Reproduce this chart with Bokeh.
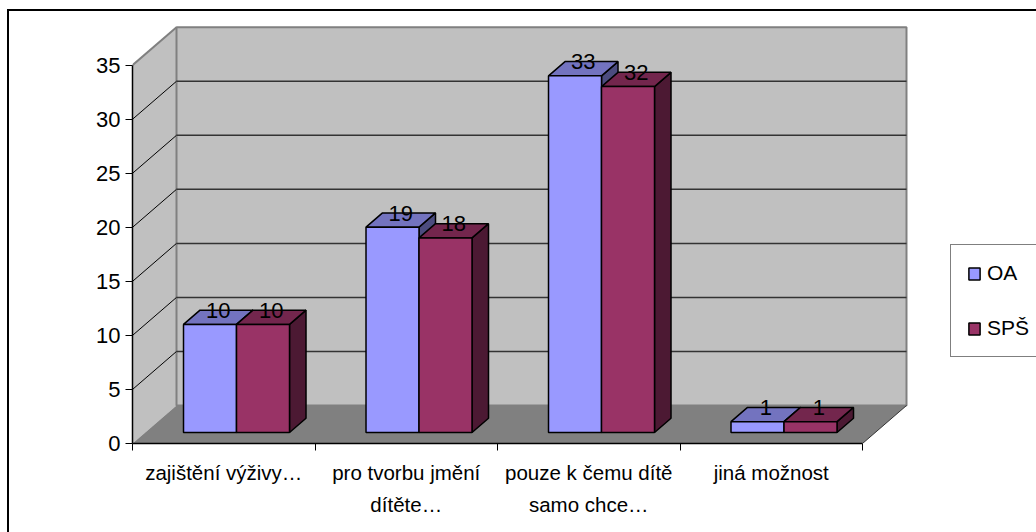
from bokeh.plotting import figure
from bokeh.models import (Range1d, LinearAxis, FixedTicker, Legend, LegendItem)
from bokeh.core.properties import value
from bokeh.embed import file_html
from bokeh.resources import INLINE

# ---- data ----
categories = ["zajištění výživy…", "pro tvorbu jmění\ndítěte…", "pouze k čemu dítě\nsamo chce…", "jiná možnost"]
oa_values = [10, 19, 33, 1]
sps_values = [10, 18, 32, 1]
series_names = ["OA", "SPŠ"]
y_ticks = [0, 5, 10, 15, 20, 25, 30, 35]

# ---- style / layout ----
FONT = "Liberation Sans"
FS = "20.5px"
FS_NUM = "22px"
FRONT = ["#9999FF", "#993366"]
TOP = ["#7373BF", "#73264D"]
SIDE = ["#4C4C7F", "#4C1933"]
W, H = 1036, 532
ML, MB = 132, 89
PX_CAT, PX_UNIT = 182.5, 54.04 / 5
DEPTH_X, DEPTH_Y = 44 / PX_CAT, 38 / PX_UNIT   # oblique projection, in data units
BAR_W = 53 / PX_CAT
D0, D1 = 0.29, 0.665                            # depth of bar front and back

def proj(c, v, d):
    return c + d * DEPTH_X, v + d * DEPTH_Y

def poly(*pts):
    xy = [proj(*pt) for pt in pts]
    return [a for a, _ in xy], [b for _, b in xy]

# outer chart frame, open on the sides that the picture crops
BORDER_CSS = (":host::after{content:'';position:absolute;left:7px;top:9px;right:0;bottom:0;"
              "border-left:2px solid #000;border-top:2px solid #000;pointer-events:none;z-index:10}")

p = figure(width=W, height=H, output_backend="svg", toolbar_location=None,
           x_range=Range1d(0, (W - ML) / PX_CAT), y_range=Range1d(0, (H - MB) / PX_UNIT),
           min_border_left=ML, min_border_right=0, min_border_top=0, min_border_bottom=MB,
           x_axis_location=None, y_axis_location=None, outline_line_color=None,
           background_fill_color="white", border_fill_color="white",
           stylesheets=[BORDER_CSS])
p.grid.visible = False

n = len(categories)
vmax = max(y_ticks)

# walls and floor
x, y = poly((0, 0, 0), (0, vmax, 0), (0, vmax, 1), (0, 0, 1))
p.patch(x, y, fill_color="#C0C0C0", line_color=None)
x, y = poly((0, 0, 1), (0, vmax, 1), (n, vmax, 1), (n, 0, 1))
p.patch(x, y, fill_color="#C0C0C0", line_color="#808080", line_width=2)
x, y = poly((0, 0, 0), (0, 0, 1), (n, 0, 1), (n, 0, 0))
p.patch(x, y, fill_color="#808080", line_color=None)
x, y = poly((0, vmax, 0), (0, vmax, 1))
p.line(x, y, line_color="#808080", line_width=2)

# gridlines on side and back wall
for t in y_ticks[1:-1]:
    x, y = poly((0, t, 0), (0, t, 1))
    p.line(x, y, line_color="#000000", line_width=1)
    x, y = poly((0, t, 1), (n, t, 1))
    p.line(x, y, line_color="#333333", line_width=1.5)
x, y = poly((0, 0, 0), (n, 0, 0))
p.line(x, y, line_color="#C0C0C0", line_width=1)
x, y = poly((n, 0, 0), (n, 0, 1))
p.line(x, y, line_color="#333333", line_width=1)

# bars
fronts = []
for i in range(n):
    for s, vals in enumerate([oa_values, sps_values]):
        left = i + 0.5 - BAR_W + s * BAR_W
        right = left + BAR_W
        v = vals[i]
        x, y = poly((right, 0, D0), (right, v, D0), (right, v, D1), (right, 0, D1))
        p.patch(x, y, fill_color=SIDE[s], line_color="black", line_width=1.5)
        x, y = poly((left, v, D0), (right, v, D0), (right, v, D1), (left, v, D1))
        p.patch(x, y, fill_color=TOP[s], line_color="black", line_width=1.5)
        x, y = poly((left, 0, D0), (right, 0, D0), (right, v, D0), (left, v, D0))
        r = p.patch(x, y, fill_color=FRONT[s], line_color="black", line_width=1.5)
        if i == 0:
            fronts.append(r)

# data labels
lx, ly, lt = [], [], []
for i in range(n):
    for s, vals in enumerate([oa_values, sps_values]):
        cx, cy = proj(i + 0.5 - BAR_W + (s + 0.5) * BAR_W, vals[i], (D0 + D1) / 2)
        lx.append(cx); ly.append(cy); lt.append(str(vals[i]))
p.text(x=lx, y=ly, text=lt, text_font=value(FONT), text_font_size=FS_NUM, text_color="black",
       text_align="center", text_baseline="alphabetic", y_offset=-7)

# axes
ya = LinearAxis(ticker=FixedTicker(ticks=y_ticks), bounds=(0, vmax))
ya.major_tick_out = 7; ya.major_tick_in = 0
ya.minor_tick_line_color = None
ya.axis_line_color = "black"; ya.axis_line_width = 1.5
ya.major_tick_line_color = "black"; ya.major_tick_line_width = 1
ya.major_label_standoff = 5
ya.major_label_text_font = FONT; ya.major_label_text_font_size = FS_NUM
ya.major_label_text_color = "black"
p.add_layout(ya, "left")

xa = LinearAxis(ticker=FixedTicker(ticks=[i + 0.5 for i in range(n)], minor_ticks=list(range(n + 1))),
                bounds=(0, n))
xa.major_label_overrides = {i + 0.5: c for i, c in enumerate(categories)}
xa.major_tick_out = 0; xa.major_tick_in = 0
xa.minor_tick_out = 7; xa.minor_tick_in = 0
xa.minor_tick_line_color = "black"
xa.axis_line_color = "black"; xa.axis_line_width = 1.5
xa.major_label_standoff = 10
xa.major_label_text_font = FONT; xa.major_label_text_font_size = FS
xa.major_label_text_color = "black"
xa.major_label_text_line_height = 1.4
p.add_layout(xa, "below")

# legend
leg = Legend(items=[LegendItem(label=series_names[k], renderers=[fronts[k]]) for k in range(2)],
             location=(818, 86), orientation="vertical",
             glyph_width=14, glyph_height=15, label_standoff=6, label_width=100,
             label_text_font=FONT, label_text_font_size="21px", label_text_color="black",
             padding=16, spacing=31, margin=0,
             border_line_color="black", border_line_width=1, background_fill_color="white",
             background_fill_alpha=1)
p.add_layout(leg, "center")

open("out.html", "w").write(file_html(p, INLINE))
